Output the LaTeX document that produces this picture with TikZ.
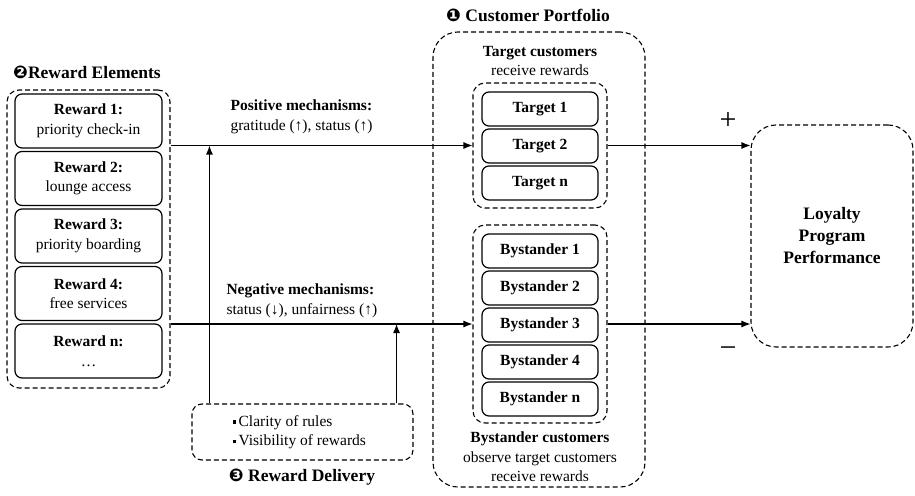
\documentclass[tikz,border=0pt]{standalone}
\usepackage{fontspec}
\setmainfont{Liberation Serif}
\newfontfamily\dingfont{DejaVu Sans}
\usetikzlibrary{arrows.meta}
\newcommand{\bul}{\raisebox{0.3ex}{\rule{3.5pt}{3.5pt}}\,}

\begin{document}
\begin{tikzpicture}[x=1pt, y=-1pt, font=\fontsize{15.5}{19.5}\selectfont,
	rbox/.style={draw, line width=1.2pt, rounded corners=7pt, align=center, inner sep=0pt},
	group/.style={draw, line width=1.1pt, dash pattern=on 5pt off 3pt, rounded corners=#1, inner sep=0pt},
	group/.default=12pt,
	title/.style={font=\fontsize{17.5}{21}\selectfont\bfseries},
	arr/.style={-{Latex[length=9pt, width=7pt]}, line width=1.1pt}]

\useasboundingbox (0,0) rectangle (915,495);

\node[title] (elemtitle) at (87,72) {{\dingfont ❷}Reward Elements};
\node[group, minimum width=163pt, minimum height=298pt] (rewards) at (88.5,239) {};
\foreach \i/\name/\text in {
	1/1/priority check-in,
	2/2/lounge access,
	3/3/priority boarding,
	4/4/free services,
	5/n/…}
	\node[rbox, minimum width=147pt, minimum height=54pt] (reward\i) at (88.5, {121+57.5*(\i-1)}) {\textbf{Reward \name:}\\\text};

\node[title] (porttitle) at (528,15) {{\dingfont ❶} Customer Portfolio};
\node[group=25pt, minimum width=212pt, minimum height=455pt] (portfolio) at (539,259.5) {};
\node[align=center] (targettext) at (540,61) {\textbf{Target customers}\\receive rewards};
\node[group, minimum width=134pt, minimum height=125pt] (targets) at (540,145.5) {};
\foreach \i/\name in {1/1, 2/2, 3/n}
	\node[rbox, minimum width=116pt, minimum height=34pt] (target\i) at (540, {109+37*(\i-1)}) {\textbf{Target \name}};
\node[group, minimum width=134pt, minimum height=198pt] (bystanders) at (540,324) {};
\foreach \i/\name in {1/1, 2/2, 3/3, 4/4, 5/n}
	\node[rbox, minimum width=116pt, minimum height=34pt] (bystander\i) at (540, {251+37*(\i-1)}) {\textbf{Bystander \name}};
\node[align=center] (bystandertext) at (540,457) {\textbf{Bystander customers}\\observe target customers\\receive rewards};

\node[group=25pt, minimum width=162pt, minimum height=222pt, align=center, font=\fontsize{17.5}{22}\selectfont\bfseries] (loyalty) at (832,236) {Loyalty\\Program\\Performance};

\node[group=10pt, minimum width=221pt, minimum height=56pt] (delivery) at (302.5,432) {};
\node[anchor=west, align=left] (deliveryitems) at (229,432) {\bul Clarity of rules\\\bul Visibility of rewards};
\node[title] (deltitle) at (302,477) {{\dingfont ❸} Reward Delivery};

\node[anchor=west, align=left] (poslabel) at (227,117) {\textbf{Positive mechanisms:}\\gratitude (↑), status (↑)};
\node[anchor=west, align=left] (neglabel) at (223,301) {\textbf{Negative mechanisms:}\\status (↓), unfairness (↑)};
\node[font=\fontsize{30}{30}\selectfont] (plus) at (728,121) {+};
\node[font=\fontsize{30}{30}\selectfont] (minus) at (728,352) {−};

\draw[arr] (rewards.east |- targets) -- (targets.west);
\draw[arr] (targets.east) -- (loyalty.west |- targets);
\draw[arr] (rewards.east |- bystanders) -- (bystanders.west);
\draw[arr] (bystanders.east) -- (loyalty.west |- bystanders);
\coordinate (posfoot) at ([xshift=18pt]delivery.north west);
\coordinate (negfoot) at ([xshift=-17pt]delivery.north east);
\draw[arr] (posfoot) -- (posfoot |- targets);
\draw[arr] (negfoot) -- (negfoot |- bystanders);

\end{tikzpicture}
\end{document}
